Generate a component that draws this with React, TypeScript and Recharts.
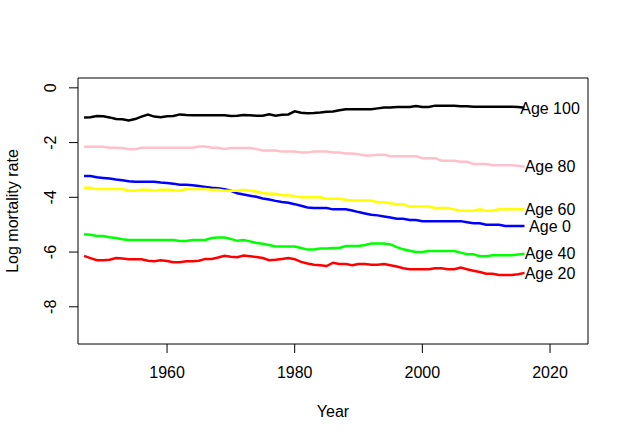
import { LineChart, Line, XAxis, YAxis, ReferenceArea, ReferenceDot } from "recharts"

const years = [
  1947, 1948, 1949, 1950, 1951, 1952, 1953, 1954, 1955, 1956,
  1957, 1958, 1959, 1960, 1961, 1962, 1963, 1964, 1965, 1966,
  1967, 1968, 1969, 1970, 1971, 1972, 1973, 1974, 1975, 1976,
  1977, 1978, 1979, 1980, 1981, 1982, 1983, 1984, 1985, 1986,
  1987, 1988, 1989, 1990, 1991, 1992, 1993, 1994, 1995, 1996,
  1997, 1998, 1999, 2000, 2001, 2002, 2003, 2004, 2005, 2006,
  2007, 2008, 2009, 2010, 2011, 2012, 2013, 2014, 2015, 2016,
]

const age0 = [
  -3.22, -3.22, -3.27, -3.29, -3.31, -3.35, -3.38, -3.41, -3.43, -3.43,
  -3.43, -3.43, -3.46, -3.48, -3.5, -3.54, -3.54, -3.56, -3.59, -3.62,
  -3.65, -3.67, -3.7, -3.76, -3.85, -3.9, -3.94, -3.98, -4.04, -4.08,
  -4.13, -4.17, -4.2, -4.25, -4.31, -4.37, -4.39, -4.39, -4.39, -4.44,
  -4.44, -4.44, -4.48, -4.54, -4.59, -4.64, -4.66, -4.7, -4.74, -4.78,
  -4.78, -4.83, -4.83, -4.87, -4.87, -4.87, -4.87, -4.87, -4.87, -4.87,
  -4.91, -4.95, -4.95, -5.0, -5.0, -5.0, -5.05, -5.05, -5.05, -5.05,
]

const age20 = [
  -6.14, -6.22, -6.3, -6.3, -6.28, -6.22, -6.24, -6.26, -6.26, -6.26,
  -6.32, -6.34, -6.3, -6.33, -6.37, -6.37, -6.34, -6.34, -6.32, -6.25,
  -6.25, -6.2, -6.14, -6.17, -6.19, -6.13, -6.15, -6.18, -6.22, -6.3,
  -6.28, -6.25, -6.22, -6.26, -6.36, -6.42, -6.46, -6.48, -6.51, -6.39,
  -6.44, -6.44, -6.48, -6.44, -6.44, -6.46, -6.46, -6.44, -6.48, -6.53,
  -6.59, -6.63, -6.63, -6.63, -6.63, -6.59, -6.59, -6.63, -6.63, -6.57,
  -6.63, -6.68, -6.73, -6.79, -6.79, -6.84, -6.84, -6.84, -6.81, -6.76,
]

const age40 = [
  -5.35, -5.37, -5.41, -5.41, -5.46, -5.49, -5.53, -5.56, -5.56, -5.56,
  -5.56, -5.56, -5.56, -5.56, -5.56, -5.6, -5.6, -5.56, -5.56, -5.56,
  -5.49, -5.47, -5.47, -5.52, -5.59, -5.56, -5.61, -5.67, -5.7, -5.74,
  -5.8, -5.8, -5.8, -5.8, -5.85, -5.91, -5.91, -5.87, -5.87, -5.85,
  -5.85, -5.78, -5.78, -5.78, -5.74, -5.69, -5.69, -5.69, -5.72, -5.82,
  -5.9, -5.95, -6.0, -6.0, -5.96, -5.96, -5.96, -5.96, -5.96, -6.02,
  -6.08, -6.08, -6.15, -6.15, -6.12, -6.12, -6.12, -6.12, -6.09, -6.06,
]

const age60 = [
  -3.65, -3.65, -3.7, -3.7, -3.7, -3.7, -3.7, -3.76, -3.76, -3.72,
  -3.72, -3.76, -3.72, -3.72, -3.73, -3.76, -3.7, -3.7, -3.7, -3.7,
  -3.72, -3.72, -3.76, -3.76, -3.76, -3.72, -3.76, -3.79, -3.84, -3.87,
  -3.87, -3.92, -3.92, -3.96, -4.0, -4.0, -4.0, -4.0, -4.05, -4.05,
  -4.05, -4.09, -4.12, -4.12, -4.12, -4.12, -4.18, -4.18, -4.22, -4.25,
  -4.25, -4.34, -4.34, -4.34, -4.34, -4.39, -4.39, -4.39, -4.44, -4.49,
  -4.49, -4.49, -4.44, -4.49, -4.49, -4.44, -4.44, -4.44, -4.44, -4.44,
]

const age80 = [
  -2.15, -2.15, -2.15, -2.15, -2.19, -2.19, -2.2, -2.24, -2.24, -2.19,
  -2.19, -2.19, -2.19, -2.19, -2.19, -2.19, -2.19, -2.19, -2.14, -2.14,
  -2.19, -2.19, -2.23, -2.2, -2.2, -2.2, -2.2, -2.24, -2.29, -2.29,
  -2.29, -2.33, -2.33, -2.33, -2.36, -2.36, -2.33, -2.33, -2.33, -2.36,
  -2.36, -2.4, -2.4, -2.43, -2.47, -2.47, -2.44, -2.44, -2.5, -2.5,
  -2.5, -2.5, -2.5, -2.57, -2.57, -2.57, -2.66, -2.66, -2.66, -2.7,
  -2.7, -2.78, -2.78, -2.78, -2.83, -2.83, -2.83, -2.83, -2.85, -2.88,
]

const age100 = [
  -1.08, -1.07, -1.03, -1.04, -1.08, -1.14, -1.15, -1.19, -1.14, -1.05,
  -0.98, -1.05, -1.07, -1.04, -1.03, -0.97, -0.99, -1.0, -1.0, -1.0,
  -1.0, -1.0, -1.0, -1.03, -1.02, -0.99, -1.0, -1.02, -1.02, -0.97,
  -1.02, -0.98, -0.97, -0.86, -0.91, -0.93, -0.92, -0.9, -0.87, -0.86,
  -0.82, -0.78, -0.78, -0.78, -0.78, -0.78, -0.75, -0.72, -0.72, -0.7,
  -0.7, -0.7, -0.66, -0.7, -0.7, -0.65, -0.65, -0.65, -0.65, -0.67,
  -0.67, -0.69, -0.69, -0.69, -0.69, -0.69, -0.69, -0.69, -0.7, -0.73,
]

const seriesNames = ["Age 0", "Age 20", "Age 40", "Age 60", "Age 80", "Age 100"]
const seriesValues = [age0, age20, age40, age60, age80, age100]
const seriesColors = ["#0000FF", "#FF0000", "#00FF00", "#FFFF00", "#FFC0CB", "#000000"]

const xTicks = [1960, 1980, 2000, 2020]
const yTicks = [0, -2, -4, -6, -8]
const xDomain = [1946.05, 2025.95]
const yDomain = [-9.36, 0.36]
const labelYear = 2020

const font = "'Liberation Sans', Arial, sans-serif"

const chartData = years.map((year, i) => {
  const row: Record<string, number> = { year }
  seriesNames.forEach((name, s) => {
    row[name] = seriesValues[s][i]
  })
  return row
})

function YTick(props: any) {
  const { y, payload } = props
  return (
    <text
      x={56}
      y={y}
      transform={`rotate(-90 56 ${y})`}
      textAnchor="middle"
      fontSize={16}
      fontFamily={font}
      fill="#000"
    >
      {payload.value}
    </text>
  )
}

export default function App() {
  return (
    <div style={{ position: "absolute", left: 0, top: 0, width: 629, height: 442, background: "#fff" }}>
      <LineChart
        width={629}
        height={442}
        data={chartData}
        margin={{ top: 78, right: 41, bottom: 0, left: 0 }}
        style={{ fontFamily: font }}
      >
        <XAxis
          dataKey="year"
          type="number"
          domain={xDomain}
          ticks={xTicks}
          allowDataOverflow
          axisLine={false}
          tickLine={{ stroke: "#000" }}
          tickSize={9}
          tickMargin={14}
          height={98}
          tick={{ fill: "#000", fontSize: 16, fontFamily: font }}
        />
        <YAxis
          type="number"
          domain={yDomain}
          ticks={yTicks}
          allowDataOverflow
          axisLine={false}
          tickLine={{ stroke: "#000" }}
          tickSize={9}
          width={78}
          tick={<YTick />}
        />
        <ReferenceArea
          x1={xDomain[0]}
          x2={xDomain[1]}
          y1={yDomain[0]}
          y2={yDomain[1]}
          fill="none"
          stroke="#000"
          strokeWidth={1}
        />
        {seriesNames.map((name, s) => (
          <Line
            key={name}
            type="linear"
            dataKey={name}
            stroke={seriesColors[s]}
            strokeWidth={2.5}
            dot={false}
            activeDot={false}
            isAnimationActive={false}
          />
        ))}
        {seriesNames.map((name, s) => (
          <ReferenceDot
            key={"lbl-" + name}
            x={labelYear}
            y={seriesValues[s][seriesValues[s].length - 1]}
            r={0}
            fill="none"
            stroke="none"
            label={{ value: name, position: "center", fill: "#000", fontSize: 16, fontFamily: font }}
          />
        ))}
        <text x={333} y={417} textAnchor="middle" fontSize={16} fontFamily={font} fill="#000">
          Year
        </text>
        <text
          x={18}
          y={211}
          transform="rotate(-90 18 211)"
          textAnchor="middle"
          fontSize={16}
          fontFamily={font}
          fill="#000"
        >
          Log mortality rate
        </text>
      </LineChart>
    </div>
  )
}
